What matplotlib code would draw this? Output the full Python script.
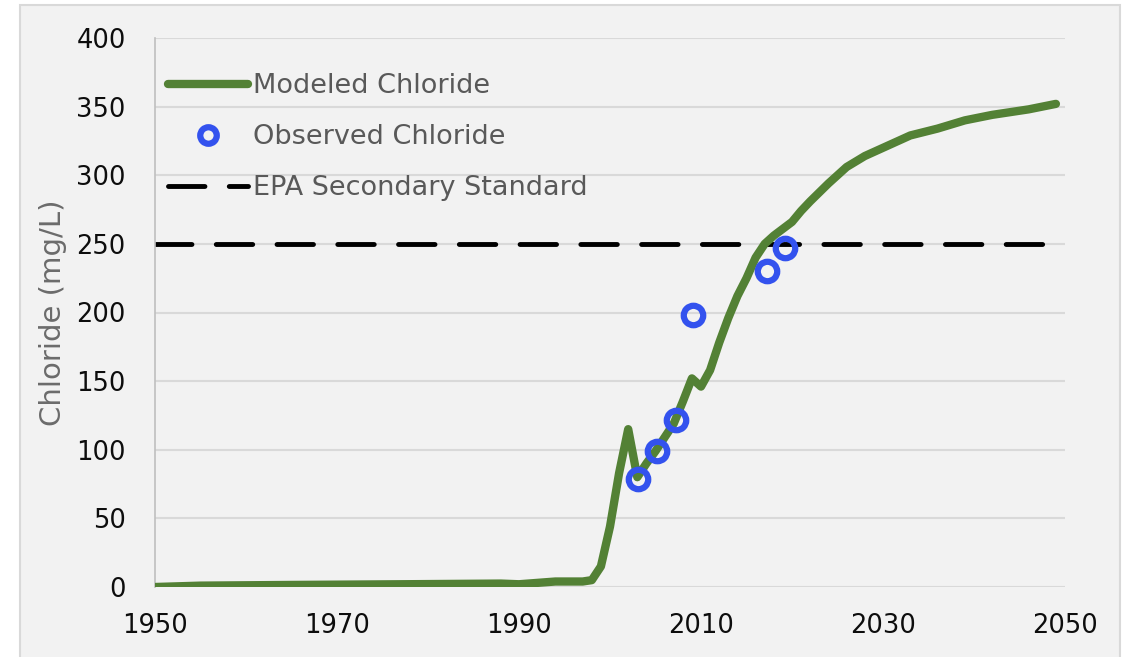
import matplotlib
matplotlib.use("Agg")
import matplotlib.pyplot as plt
from matplotlib.patches import Rectangle

# Data
model_years = [1950, 1955, 1965, 1977, 1988, 1990, 1994, 1997, 1998, 1999, 2000, 2001, 2002, 2003,
               2004, 2005, 2006, 2007, 2008, 2009, 2010, 2011, 2012, 2013, 2014, 2015, 2016, 2017,
               2018, 2019, 2020, 2021, 2022, 2024, 2026, 2028, 2030, 2033, 2036, 2039, 2042, 2046, 2049]
model_values = [0, 1, 1.5, 2, 2.5, 2, 4, 4, 5, 15, 44, 83, 115, 80,
                90, 99, 109, 119, 135, 152, 146, 158, 178, 196, 212, 225, 240, 250,
                256, 261, 266, 274, 281, 294, 306, 314, 320, 329, 334, 340, 344, 348, 352]
obs_years = [2003.1, 2005.2, 2007.2, 2009.1, 2017.2, 2019.2]
obs_values = [79, 99, 122, 198, 230, 247]
epa_years = [1950, 2049]
epa_values = [250, 250]
x_ticks = [1950, 1970, 1990, 2010, 2030, 2050]
y_ticks = [0, 50, 100, 150, 200, 250, 300, 350, 400]

plt.rcParams['font.family'] = ['DejaVu Sans']

W, H = 1132, 657
fig = plt.figure(figsize=(W / 100, H / 100), dpi=100)
fig.patch.set_facecolor('white')
bg = Rectangle((20 / W, -0.01), 1100 / W, 1 - 5 / H + 0.01, transform=fig.transFigure,
               facecolor='#f2f2f2', edgecolor='#d9d9d9', linewidth=1.5, zorder=-10)
fig.add_artist(bg)

L, R, T, B = 155, 1065, 38, 587
ax = fig.add_axes([L / W, 1 - B / H, (R - L) / W, (B - T) / H])
ax.set_facecolor('none')
ax.set_zorder(1)

ax.plot(model_years, model_values, color='#538135', linewidth=6, solid_capstyle='round',
        solid_joinstyle='round', label='Modeled Chloride', zorder=3)
ax.plot(obs_years, obs_values, linestyle='none', marker='o', markersize=14, markerfacecolor='none',
        markeredgecolor='#3352ee', markeredgewidth=4.5, label='Observed Chloride', zorder=4)
ax.plot(epa_years, epa_values, color='black', linewidth=3.5, dashes=(7.5, 5), dash_capstyle='round',
        label='EPA Secondary Standard', zorder=2)

ax.set_xlim(1950, 2050)
ax.set_ylim(0, 400)
ax.set_xticks(x_ticks)
ax.set_yticks(y_ticks)
ax.grid(axis='y', color='#d9d9d9', linewidth=1.5, zorder=0)
ax.set_axisbelow(True)
for s in ['top', 'right', 'bottom']:
    ax.spines[s].set_visible(False)
ax.spines['left'].set_color('#bfbfbf')
ax.spines['left'].set_linewidth(1.2)
ax.tick_params(axis='both', length=0, labelsize=18.5, colors='#0d0d0d')
ax.tick_params(axis='y', pad=21)
ax.tick_params(axis='x', pad=19)
ax.set_ylabel('Chloride (mg/L)', fontsize=21, color='#6b6b6b', labelpad=7)

leg = ax.legend(loc='upper left', bbox_to_anchor=((168 - L) / (R - L), 1 - (73 - T) / (B - T)),
                frameon=False, fontsize=19.5, labelcolor='#595959', handlelength=2.95,
                handletextpad=0.2, labelspacing=0.93, borderaxespad=0, borderpad=0,
                markerscale=0.85)

fig.savefig('out.png', dpi=100, facecolor=fig.get_facecolor())
